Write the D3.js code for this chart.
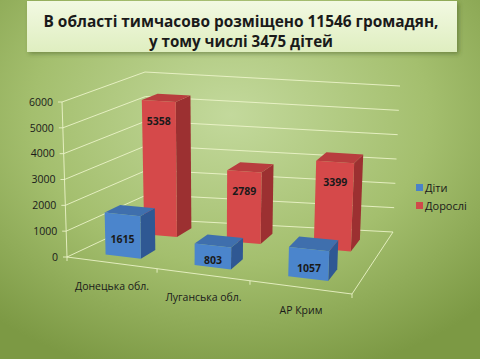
<!DOCTYPE html>
<meta charset="utf-8">
<style>
body { margin: 0; }
svg text { font-family: "Open Sans", sans-serif; fill: #1a1a1a; }
.grid path { fill: none; stroke: #eef6cc; stroke-opacity: 0.85; stroke-width: 1px; }
</style>
<svg width="480" height="359"></svg>
<script src="https://d3js.org/d3.v7.min.js"></script>
<script>

// data
var categories = ["Донецька обл.", "Луганська обл.", "АР Крим"]
var series = ["Діти", "Дорослі"]
var children = [1615, 803, 1057]
var adults = [5358, 2789, 3399]
var yTicks = [0, 1000, 2000, 3000, 4000, 5000, 6000]
var titleLines = ["В області тимчасово розміщено 11546 громадян,", "у тому числі 3475 дітей"]

var svg = d3.select("svg")

// background
var defs = svg.append("defs")
var bg = defs.append("radialGradient").attr("id", "bg")
	.attr("cx", "48%").attr("cy", "32%").attr("r", "75%")
bg.append("stop").attr("offset", "0").attr("stop-color", "#c3d99c")
bg.append("stop").attr("offset", "0.55").attr("stop-color", "#a4bf6e")
bg.append("stop").attr("offset", "1").attr("stop-color", "#7c9944")
var tb = defs.append("linearGradient").attr("id", "tb").attr("x2", 0).attr("y2", 1)
tb.append("stop").attr("offset", "0").attr("stop-color", "#f2f9e2")
tb.append("stop").attr("offset", "1").attr("stop-color", "#dfeec0")
defs.append("filter").attr("id", "sh")
	.attr("x", "-5%").attr("y", "-20%").attr("width", "115%").attr("height", "150%")
	.append("feDropShadow").attr("dx", 2).attr("dy", 2).attr("stdDeviation", 2)
	.attr("flood-color", "#3d5020").attr("flood-opacity", 0.45)

svg.append("rect").attr("width", 480).attr("height", 359).attr("fill", "url(#bg)")

// title box
svg.append("rect").attr("x", 27).attr("y", 1).attr("width", 430).attr("height", 51)
	.attr("fill", "url(#tb)").attr("filter", "url(#sh)")
svg.selectAll(".title").data(titleLines).enter().append("text")
	.attr("class", "title")
	.attr("x", 241).attr("y", function (d, i) { return 26.5 + i * 20 })
	.attr("text-anchor", "middle")
	.style("font-weight", "bold").style("font-size", "16px")
	.attr("textLength", function (d, i) { return i ? 184 : 395 })
	.attr("lengthAdjust", "spacingAndGlyphs")
	.text(function (d) { return d })

// scales for the 3d box
var catBand = d3.scaleBand().domain(categories).range([0, 1]).paddingInner(0.6).paddingOuter(0.3)
var serBand = d3.scaleBand().domain(series).range([0, 1]).paddingInner(0.6).paddingOuter(0.3)
var uWarp = d3.scaleLinear().domain([0, 1 / 3, 2 / 3, 1]).range([0, 0.316, 0.642, 1])
var yScale = d3.scaleLinear().domain([0, 6000]).range([0, 1])

// corners of the plot box on screen: floor and the 6000 level
var floorC = { FL: [67, 257], FR: [352, 294], BR: [393, 232], BL: [148, 219] }
var ceilC = { FL: [62, 102], FR: [359, 118], BR: [400, 86], BL: [145, 72] }

function bil(c, u, w) {
	return [0, 1].map(function (i) {
		return (1 - u) * (1 - w) * c.FL[i] + u * (1 - w) * c.FR[i] + u * w * c.BR[i] + (1 - u) * w * c.BL[i]
	})
}
function proj(u, w, v) {
	var uu = uWarp(u)
	var f = bil(floorC, uu, w), c = bil(ceilC, uu, w), t = yScale(v)
	return [f[0] + (c[0] - f[0]) * t, f[1] + (c[1] - f[1]) * t]
}
var line = d3.line()

// gridlines on the side and back walls
var grid = svg.append("g").attr("class", "grid")
grid.selectAll("path.g").data(yTicks).enter().append("path")
	.attr("d", function (v) { return line([proj(0, 0, v), proj(0, 1, v), proj(1, 1, v)]) })
// floor front and right edges
grid.append("path").attr("d", line([proj(0, 0, 0), proj(1, 0, 0), proj(1, 1, 0)]))
// value axis
grid.append("path").attr("d", line([proj(0, 0, 0), proj(0, 0, 6000)]))
grid.selectAll("path.t").data(yTicks).enter().append("path")
	.attr("d", function (v) { var p = proj(0, 0, v); return line([[p[0] - 4, p[1]], p]) })
grid.selectAll("path.c").data([0, 1 / 3, 2 / 3, 1]).enter().append("path")
	.attr("d", function (u) { var p = proj(u, 0, 0); return line([p, [p[0], p[1] + 4]]) })

svg.selectAll(".ylab").data(yTicks).enter().append("text")
	.attr("class", "ylab")
	.attr("x", function (v) { return proj(0, 0, v)[0] - 9 })
	.attr("y", function (v) { return proj(0, 0, v)[1] })
	.attr("dy", "0.35em").attr("text-anchor", "end")
	.style("font-size", "10.5px")
	.text(function (v) { return v })

svg.selectAll(".xlab").data(categories).enter().append("text")
	.attr("class", "xlab")
	.attr("x", function (c) { return proj(catBand(c) + catBand.bandwidth() / 2, 0, 0)[0] })
	.attr("y", function (c) { return proj(catBand(c) + catBand.bandwidth() / 2, 0, 0)[1] + 23 })
	.attr("dy", "0.35em").attr("text-anchor", "middle")
	.style("font-size", "10.5px")
	.text(function (c) { return c })

// bars, back row first
var colors = {
	"Діти": { front: "#4b85cc", top: "#3f6fad", side: "#2f5893", legend: "#4a82c8" },
	"Дорослі": { front: "#d5494a", top: "#b83d3e", side: "#9c3031", legend: "#d0494a" }
}
var bars = []
series.slice().reverse().forEach(function (s) {
	var vals = s === "Діти" ? children : adults
	categories.forEach(function (c, i) { bars.push({ s: s, c: c, v: vals[i] }) })
})

var barG = svg.append("g")
bars.forEach(function (d) {
	var u0 = catBand(d.c), u1 = u0 + catBand.bandwidth()
	var w0 = serBand(d.s), w1 = w0 + serBand.bandwidth()
	var g = barG.append("g")
	var col = colors[d.s]
	g.append("path").attr("fill", col.side)
		.attr("d", line([proj(u1, w0, 0), proj(u1, w1, 0), proj(u1, w1, d.v), proj(u1, w0, d.v)]) + "Z")
	g.append("path").attr("fill", col.top)
		.attr("d", line([proj(u0, w0, d.v), proj(u1, w0, d.v), proj(u1, w1, d.v), proj(u0, w1, d.v)]) + "Z")
	g.append("path").attr("fill", col.front)
		.attr("d", line([proj(u0, w0, 0), proj(u1, w0, 0), proj(u1, w0, d.v), proj(u0, w0, d.v)]) + "Z")
	var top = proj((u0 + u1) / 2, w0, d.v), bot = proj((u0 + u1) / 2, w0, 0)
	var ly = bot[1] - top[1] > 60 ? top[1] + 20 : (top[1] + bot[1]) / 2 + 4
	g.append("text")
		.attr("x", top[0]).attr("y", ly).attr("dy", "0.35em")
		.attr("text-anchor", "middle")
		.style("font-size", "10.5px").style("font-weight", "bold")
		.text(d.v)
})

// legend
var leg = svg.selectAll(".leg").data(series).enter().append("g")
	.attr("class", "leg")
	.attr("transform", function (d, i) { return "translate(416," + (184 + i * 18) + ")" })
leg.append("rect").attr("width", 7).attr("height", 7).attr("fill", function (d) { return colors[d].legend })
leg.append("text").attr("x", 9).attr("y", 4).attr("dy", "0.35em")
	.style("font-size", "11px").text(function (d) { return d })

</script>
